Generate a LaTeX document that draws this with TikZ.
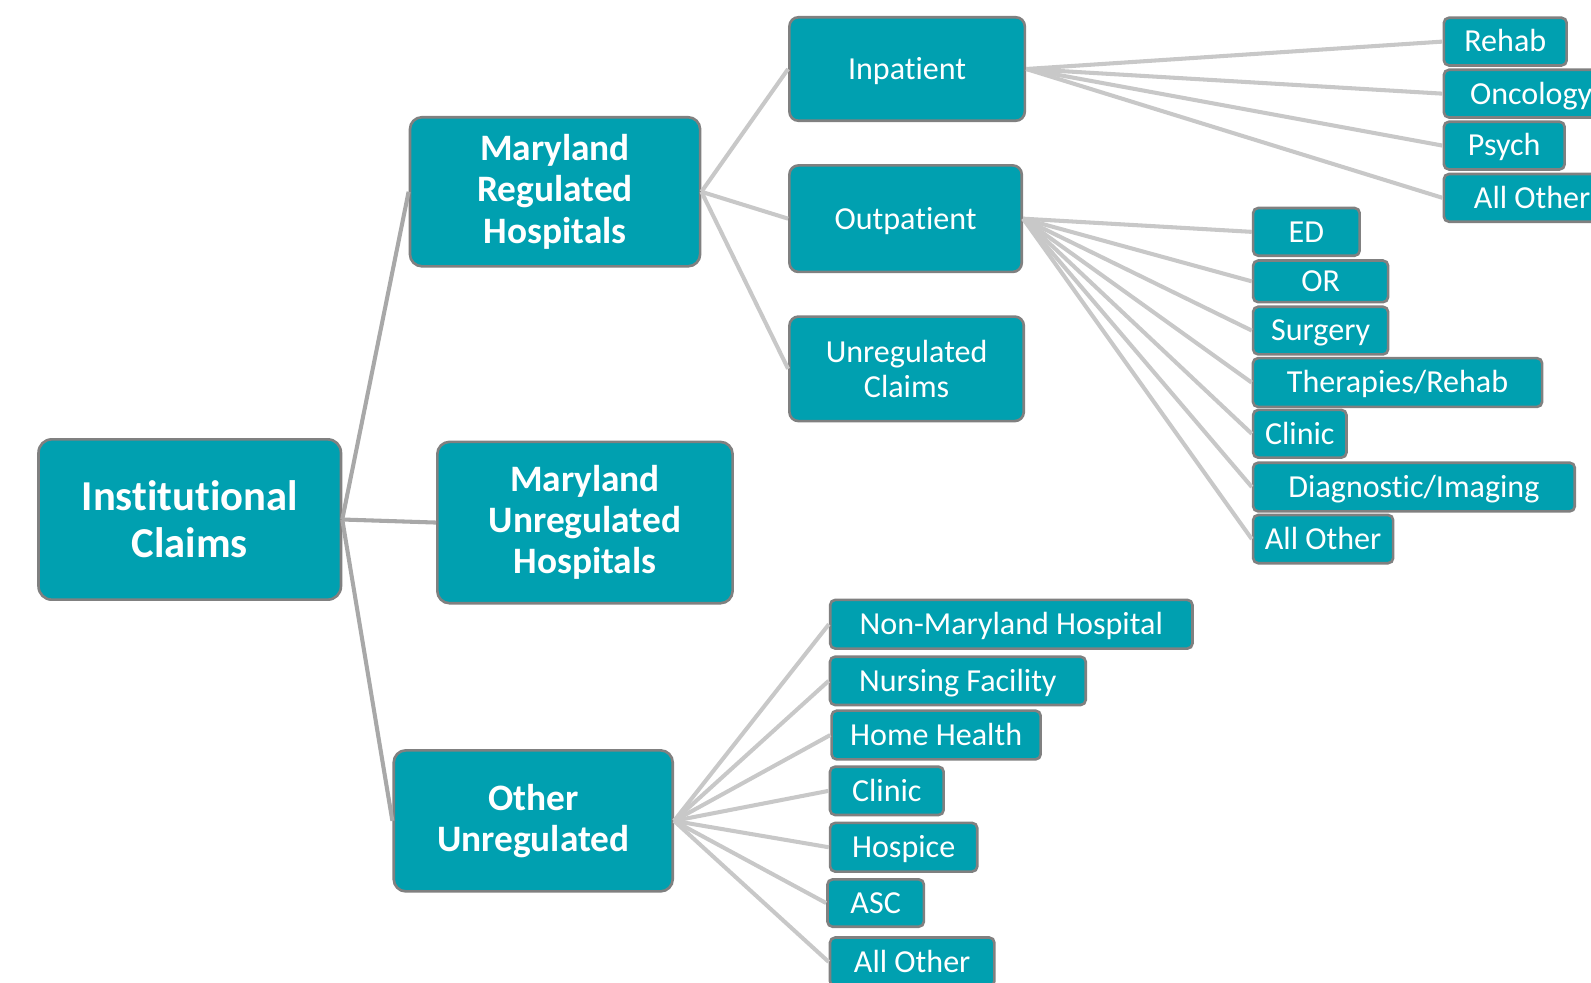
\documentclass[tikz,border=0pt]{standalone}
\usepackage{fontspec}
\setmainfont{Carlito}[Ligatures=NoCommon]
\usepackage{tikz}
\definecolor{claimteal}{RGB}{0,160,176}
\definecolor{claimedge}{RGB}{128,128,128}
\definecolor{linklight}{RGB}{200,200,200}
\definecolor{linkdark}{RGB}{168,168,168}
\tikzset{
    claimbox/.style={shape=rectangle, draw=claimedge, line width=1.3pt, fill=claimteal, text=white, inner sep=0pt, align=center},
    dims/.style 2 args={minimum width=#1*0.5pt, minimum height=#2*0.5pt},
    oneline/.style={text height=1.15em, text depth=0.13em},
    topbox/.style={claimbox, rounded corners=6.5pt, font=\bfseries\fontsize{21}{23}\selectfont},
    midbox/.style={claimbox, rounded corners=6pt, font=\bfseries\fontsize{18.4}{20.25}\selectfont},
    subbox/.style={claimbox, rounded corners=4.5pt, font=\fontsize{15.8}{17}\selectfont},
    leafbox/.style={claimbox, oneline, rounded corners=2.5pt, font=\fontsize{15.8}{17}\selectfont},
    rootlink/.style={draw=linkdark, line width=2pt},
    link/.style={draw=linklight, line width=2pt}}

\begin{document}
\begin{tikzpicture}[x=0.5pt, y=-0.5pt]

            \useasboundingbox (0,0) rectangle (1568,968);
            \clip (0,0) rectangle (1568,968);

            \node[topbox, dims={298}{158}] (IC) at (187,512) {Institutional\\Claims};

            \node[midbox, dims={286}{147}] (MRH) at (547,189) {Maryland\\Regulated\\Hospitals};
            \node[midbox, dims={291}{159}] (MUH) at (576.5,515) {Maryland\\Unregulated\\Hospitals};
            \node[midbox, dims={275}{139}] (OU) at (525.5,809) {Other\\Unregulated};

            \node[subbox, oneline, dims={232}{102}] (IP) at (894,68) {Inpatient};
            \node[subbox, oneline, dims={229}{105}] (OP) at (892.5,215.5) {Outpatient};
            \node[subbox, dims={231}{103}] (UC) at (893.5,363.5) {Unregulated\\Claims};

            \node[leafbox, dims={121}{47}] (IP1) at (1483.5,41) {Rehab};
            \node[leafbox, dims={172}{47}] (IP2) at (1509,92.3) {Oncology};
            \node[leafbox, dims={119}{47}] (IP3) at (1482.5,143.5) {Psych};
            \node[leafbox, dims={174}{47}] (IP4) at (1510,195) {All Other};

            \node[leafbox, dims={105}{47}] (OP1) at (1287.5,228.5) {ED};
            \node[leafbox, dims={133}{41}] (OP2) at (1301.5,277.3) {OR};
            \node[leafbox, dims={133}{47}] (OP3) at (1301.5,325.8) {Surgery};
            \node[leafbox, dims={285}{48}] (OP4) at (1377.3,377) {Therapies/Rehab};
            \node[leafbox, dims={92}{47}] (OP5) at (1281,427.5) {Clinic};
            \node[leafbox, dims={317}{48}] (OP6) at (1393.5,480) {Diagnostic/Imaging};
            \node[leafbox, dims={138}{47.5}] (OP7) at (1304,531.3) {All Other};

            \node[leafbox, dims={357}{48}] (OU1) at (996.7,615.2) {Non-Maryland Hospital};
            \node[leafbox, dims={252}{47.6}] (OU2) at (944,671) {Nursing Facility};
            \node[leafbox, dims={206}{48}] (OU3) at (922.6,724.4) {Home Health};
            \node[leafbox, dims={112}{47.6}] (OU4) at (874,779.4) {Clinic};
            \node[leafbox, dims={145}{48}] (OU5) at (890.6,835) {Hospice};
            \node[leafbox, dims={95}{46.6}] (OU6) at (863,890) {ASC};
            \node[leafbox, dims={162}{48}] (OU7) at (899,948) {All Other};

            \draw[rootlink] (IC.east) -- (MRH.west);
            \draw[rootlink] (IC.east) -- (MUH.west);
            \draw[rootlink] (IC.east) -- (OU.west);

            \draw[link] (MRH.east) -- (IP.west);
            \draw[link] (MRH.east) -- (OP.west);
            \draw[link] (MRH.east) -- (UC.west);

            \foreach \i in {1,...,4}
                \draw[link] (IP.east) -- (IP\i.west);
            \foreach \i in {1,...,7}
                \draw[link] (OP.east) -- (OP\i.west);
            \foreach \i in {1,...,7}
                \draw[link] (OU.east) -- (OU\i.west);

        \end{tikzpicture}
\end{document}
